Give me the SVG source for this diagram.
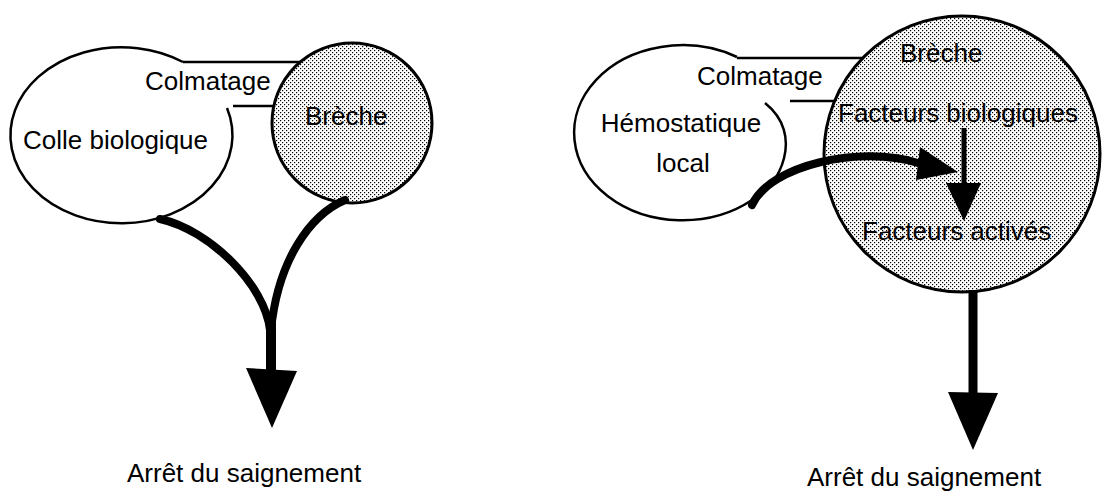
<svg xmlns="http://www.w3.org/2000/svg" width="1105" height="502" viewBox="0 0 1105 502">
<style>
text{font-family:"Liberation Sans",Arial,sans-serif;font-size:26px;fill:#000}
.outline{fill:none;stroke:#000;stroke-width:2.5}
.line{stroke:#000;stroke-width:2.5}
.disc{fill:url(#dots);stroke:#000;stroke-width:3}
.thick{fill:none;stroke:#000;stroke-width:8;stroke-linecap:round}
.head{fill:#000}
</style>
<defs>
<pattern id="dots" width="4" height="4" patternUnits="userSpaceOnUse">
<rect width="4" height="4" fill="#fff"/>
<rect x="0" y="0" width="1.2" height="1.2" fill="#000"/>
<rect x="2" y="2" width="1.2" height="1.2" fill="#000"/>
</pattern>
</defs>

<!-- Left diagram -->
<g id="colle">
<path class="outline" d="M183,62 A111,88 0 1 0 227,108"/>
<line class="line" x1="183" y1="62" x2="305" y2="62"/>
<line class="line" x1="233" y1="106" x2="280" y2="106"/>
<text x="145" y="90">Colmatage</text>
<text x="23" y="149">Colle biologique</text>
</g>
<g id="breche-left">
<circle class="disc" cx="352" cy="123" r="80"/>
<text x="305" y="125">Brèche</text>
</g>
<g id="arret-left">
<text x="127" y="482">Arrêt du saignement</text>
</g>

<!-- Right diagram -->
<g id="hemostatique">
<path class="outline" d="M737,57 A108.5,87.5 0 1 0 752,200"/>
<path class="outline" d="M752,203 C780,185 805,135 765,103"/>
<line class="line" x1="737" y1="58" x2="875" y2="58"/>
<line class="line" x1="790" y1="101" x2="850" y2="101"/>
<text x="697" y="85">Colmatage</text>
<text x="681" y="132" text-anchor="middle">Hémostatique</text>
<text x="683" y="172" text-anchor="middle">local</text>
</g>
<g id="breche-right">
<circle class="disc" cx="962" cy="154" r="138"/>
<text x="900" y="62">Brèche</text>
<text x="838" y="122">Facteurs biologiques</text>
<text x="862" y="240">Facteurs activés</text>
</g>
<g id="arret-right">
<text x="807" y="486">Arrêt du saignement</text>
</g>

<g id="connectors">
<!-- left merging arrow -->
<path class="thick" d="M160,219 C210,230 265,285 270,330"/>
<path class="thick" d="M345,200 C310,215 278,260 271,330"/>
<line x1="271" y1="320" x2="271" y2="372" stroke="#000" stroke-width="10"/>
<polygon class="head" points="246,368 297,371 272,428"/>
<!-- right: hemostatique to activated factors -->
<path class="thick" d="M752,205 C770,165 860,145 918,163"/>
<polygon class="head" points="920,147 916,180 958,172"/>
<!-- facteurs biologiques to facteurs actives -->
<line x1="964" y1="128" x2="964" y2="186" stroke="#000" stroke-width="5"/>
<polygon class="head" points="946,183 981,183 964,221"/>
<!-- down to arret -->
<line x1="973" y1="290" x2="973" y2="395" stroke="#000" stroke-width="9"/>
<polygon class="head" points="948,392 998,393 973,450"/>
</g>
</svg>
